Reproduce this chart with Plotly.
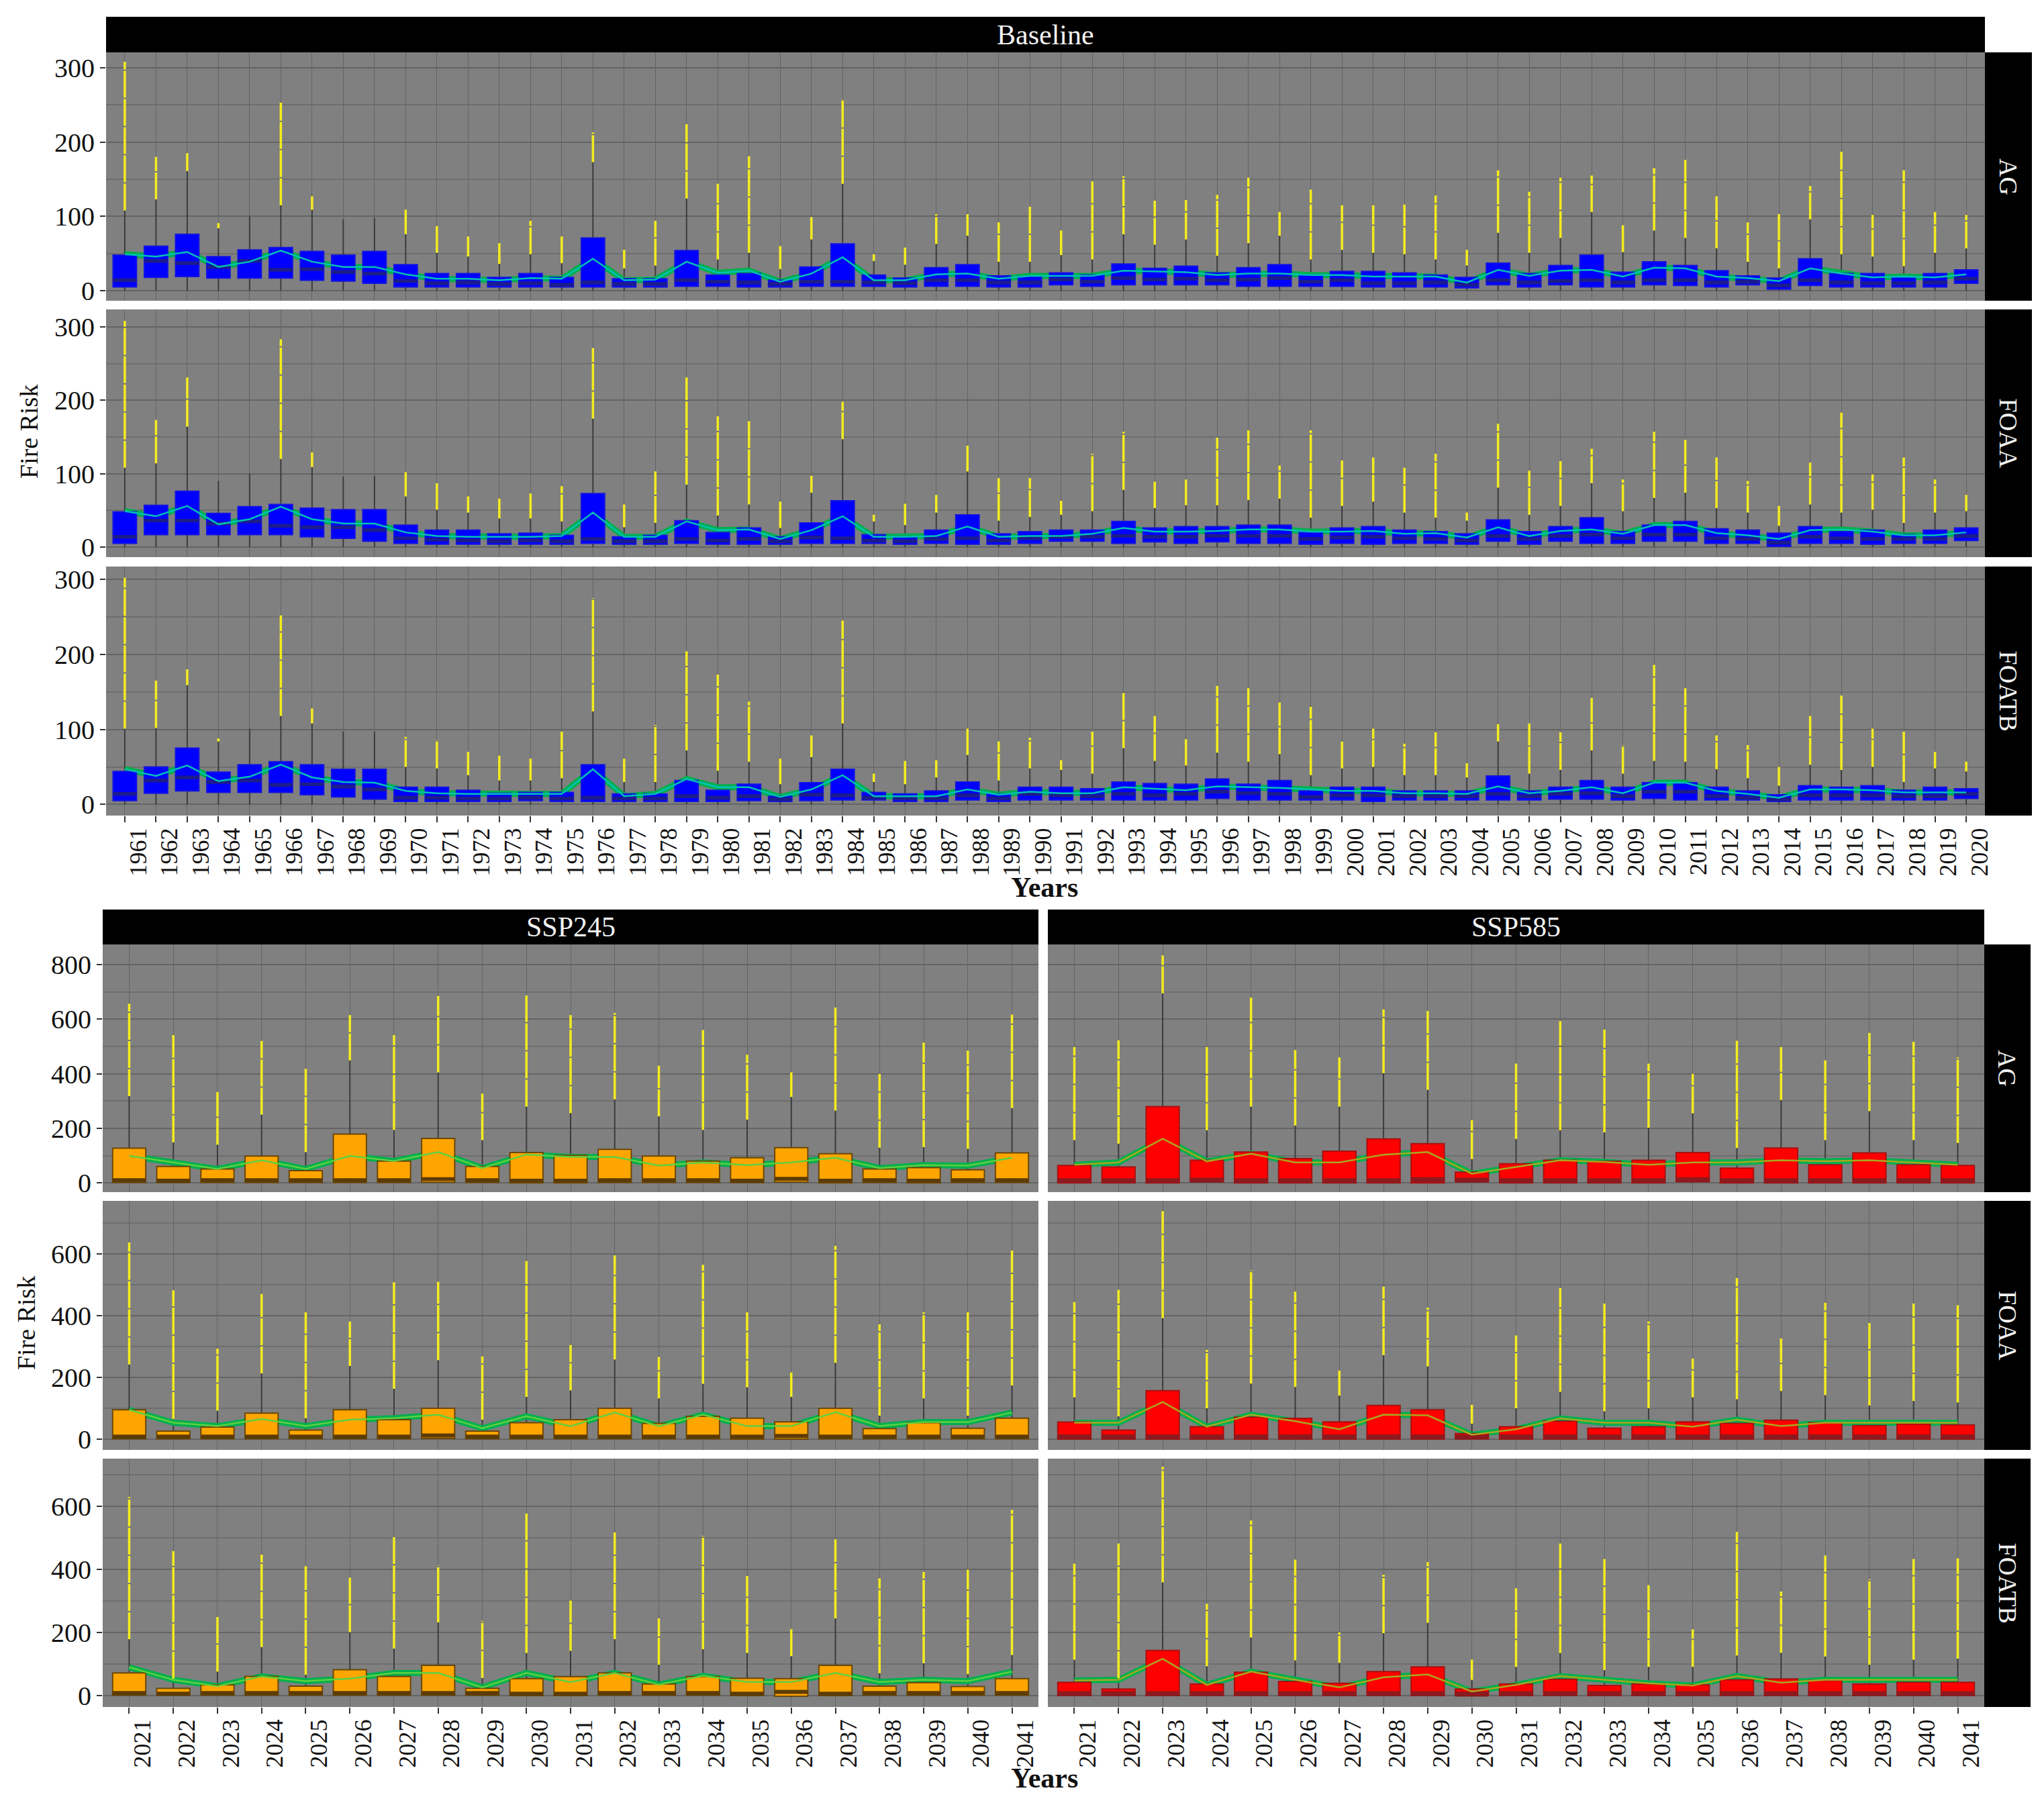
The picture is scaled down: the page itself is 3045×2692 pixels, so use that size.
import plotly.graph_objects as go

W, H = 3045, 2692

years_hist = [str(y) for y in range(1961, 2021)]
years_fut = [str(y) for y in range(2021, 2042)]

# Baseline AG
ag_top = [48,60,76,46,55,58,53,48,53,35,23,23,18,23,18,71,16,16,54,21,23,14,32,63,21,17,31,35,20,19,24,21,36,30,33,24,31,35,21,26,26,24,21,18,37,23,34,48,25,39,34,27,20,17,43,23,23,19,23,28]
ag_bot = [5,18,19,17,17,17,14,13,10,5,5,5,5,5,5,5,5,5,6,6,5,5,6,6,6,5,6,6,5,5,8,6,8,8,8,8,6,6,6,6,5,5,5,4,8,5,8,5,5,8,7,5,8,2,7,5,5,5,5,10]
ag_med = [14,40,37,32,40,28,29,25,23,13,10,11,9,10,8,11,9,9,14,12,11,9,12,12,11,10,14,14,11,11,15,12,17,15,16,14,15,17,12,14,10,10,11,8,14,11,13,14,11,14,14,11,12,7,14,11,10,10,11,16]
ag_whi = [108,123,161,84,100,115,109,96,98,76,51,46,36,49,37,173,30,34,124,42,51,29,69,144,40,35,63,74,39,39,48,42,76,62,69,47,64,74,42,55,51,49,42,34,78,51,71,106,52,81,71,57,39,30,96,49,46,33,51,57]
ag_max = [308,180,185,91,100,253,127,96,98,109,87,73,64,94,73,213,55,94,224,144,181,60,99,258,49,58,103,103,92,115,81,147,154,121,122,129,152,106,136,115,115,116,128,55,162,133,152,155,90,165,176,127,92,103,141,187,102,162,106,102]
ag_mean = [49,46,52,32,39,54,39,32,32,22,16,16,14,17,16,43,14,15,39,24,27,12,23,45,14,14,22,23,16,20,20,20,27,26,25,21,23,23,21,21,19,19,19,11,28,20,27,28,19,31,30,19,17,13,30,23,18,19,18,22]

# Baseline FOAA
foaa_top = [48,57,76,46,55,58,53,51,51,30,23,23,18,19,16,73,14,16,36,20,26,14,33,63,17,14,23,44,18,21,23,23,35,26,28,28,30,30,20,26,28,23,21,18,37,21,28,40,21,30,35,25,23,19,28,21,23,17,23,26]
foaa_bot = [5,17,17,17,17,17,14,12,8,5,4,4,4,4,4,5,4,4,5,4,4,4,5,5,5,4,5,4,4,5,8,8,5,7,5,7,5,5,4,5,4,5,5,4,8,4,8,5,5,8,8,5,5,1,5,5,4,5,5,9]
foaa_med = [14,36,36,32,35,29,27,27,23,12,10,9,8,9,8,11,8,8,11,9,11,8,13,12,9,8,11,12,9,12,14,14,15,14,14,15,15,15,11,13,14,12,11,9,15,11,15,17,12,17,17,12,11,6,14,12,11,11,11,15]
foaa_whi = [108,114,164,90,100,120,109,96,97,69,51,47,39,39,35,175,27,33,85,43,58,26,74,147,35,30,47,103,36,41,44,49,78,53,57,57,64,66,40,56,62,47,40,36,81,44,56,87,49,67,74,53,47,29,58,47,51,33,47,49]
foaa_max = [308,173,231,90,100,283,129,96,97,102,87,69,66,73,83,271,58,103,231,178,173,62,97,198,44,59,71,138,94,94,63,127,157,89,92,149,159,111,159,118,122,108,127,47,168,104,117,134,92,157,146,122,90,56,115,183,99,122,92,71]
foaa_mean = [49,42,56,31,38,55,38,32,32,20,15,14,14,14,15,47,14,14,35,23,24,11,23,42,14,14,15,28,14,15,15,18,26,21,21,22,24,24,21,21,22,18,19,13,27,15,22,24,18,30,30,19,16,11,23,24,21,16,16,20]

# Baseline FOATB
foatb_top = [44,50,75,43,53,57,53,47,47,23,23,19,15,16,16,53,14,14,32,19,27,11,29,47,16,14,18,30,14,23,23,21,30,28,27,34,27,32,18,23,23,18,18,18,38,18,23,32,23,29,29,23,18,13,25,23,25,19,23,21]
foatb_bot = [5,15,18,16,16,16,13,10,7,4,4,4,4,5,4,4,4,4,4,4,5,4,5,6,6,4,4,6,4,6,6,6,6,6,6,8,6,6,6,6,4,6,6,6,6,6,7,7,6,8,6,6,6,4,6,6,6,6,6,8]
foatb_med = [14,32,36,30,32,26,27,24,20,9,9,8,8,9,8,9,8,8,11,9,11,7,13,12,9,8,8,12,8,14,12,11,14,12,14,17,15,14,10,12,12,11,11,11,14,11,14,15,11,17,17,11,9,7,12,12,12,11,11,14]
foatb_whi = [101,102,159,84,101,118,108,97,97,50,48,39,32,32,35,124,30,30,72,45,57,27,63,108,30,27,36,66,32,48,46,41,75,58,52,69,57,67,39,48,50,39,39,36,84,41,46,72,41,58,57,47,35,25,53,46,50,30,48,44]
foatb_max = [302,165,180,88,101,252,128,97,97,90,86,70,65,61,97,275,61,106,204,173,137,61,92,245,41,58,59,101,84,89,59,97,150,118,87,158,155,136,130,84,101,81,96,55,107,108,96,142,79,186,155,92,79,50,118,145,101,97,70,57]
foatb_mean = [47,38,52,31,37,53,36,30,29,18,15,14,14,14,14,47,11,14,34,23,23,10,20,39,11,11,11,20,13,17,15,15,23,21,19,24,23,22,20,18,18,15,15,14,24,15,18,23,15,29,29,18,14,9,20,20,19,16,16,16]

# SSP245
s245_ag_top = [127,60,51,98,45,179,80,163,60,111,101,123,98,80,92,129,107,51,56,48,110]
s245_ag_bot = [1,1,1,1,1,1,1,2,1,0,0,1,1,1,1,3,0,1,0,1,1]
s245_ag_med = [10,8,10,10,10,10,10,14,10,8,8,10,10,10,8,15,8,10,8,10,10]
s245_ag_whi = [318,149,140,250,113,449,194,405,157,280,256,306,244,194,232,315,265,129,131,125,274]
s245_ag_max = [657,542,333,520,423,615,542,685,327,687,615,623,429,560,470,405,643,399,514,485,617]
s245_ag_mean = [99,75,51,83,51,99,80,113,54,104,95,95,63,75,65,75,92,54,65,63,92]

s245_foaa_top = [95,26,39,84,29,95,63,100,26,53,63,100,51,74,68,56,100,34,53,35,68]
s245_foaa_bot = [1,1,1,1,1,1,1,2,1,1,1,1,1,1,0,0,1,1,1,1,1]
s245_foaa_med = [8,8,8,8,8,8,8,12,8,8,8,8,8,8,8,10,8,8,8,8,8]
s245_foaa_whi = [242,65,92,213,68,237,163,256,63,137,158,258,132,179,168,137,247,76,132,76,174]
s245_foaa_max = [637,482,293,470,411,381,508,510,268,577,305,595,266,565,411,216,626,372,411,411,611]
s245_foaa_mean = [95,53,42,65,42,63,68,79,35,74,42,86,42,79,42,42,87,42,55,55,86]

s245_foatb_top = [72,23,34,61,30,82,61,96,23,54,60,72,37,60,55,54,96,30,41,29,54]
s245_foatb_bot = [1,1,1,1,1,1,1,1,1,0,0,1,1,1,0,-2,0,1,1,1,1]
s245_foatb_med = [8,6,8,8,8,8,8,8,8,6,6,8,8,8,6,12,6,8,8,8,8]
s245_foatb_whi = [179,54,76,154,66,201,149,232,56,135,142,179,98,147,135,125,245,71,103,68,129]
s245_foatb_max = [629,458,249,447,410,374,506,412,237,577,301,517,245,506,379,215,495,372,392,399,589]
s245_foatb_mean = [90,50,30,61,46,54,72,72,26,72,43,72,35,63,43,43,72,43,50,46,76]

# SSP585
s585_ag_top = [64,58,280,83,113,89,116,161,144,39,70,83,79,83,111,54,128,66,110,66,64]
s585_ag_bot = [0,0,0,4,0,0,0,0,0,4,0,0,0,0,4,0,0,0,0,0,0]
s585_ag_med = [8,8,8,10,8,8,8,8,12,10,8,8,8,8,12,8,8,8,8,8,8]
s585_ag_whi = [157,144,695,193,280,210,280,402,341,87,161,193,185,202,255,128,304,157,263,157,146]
s585_ag_max = [498,523,834,498,679,487,460,636,630,230,437,593,562,437,400,521,498,449,550,517,460]
s585_ag_mean = [66,75,162,79,107,75,75,103,113,34,58,83,77,66,75,75,83,79,83,75,66]

s585_foaa_top = [55,29,157,40,71,67,56,109,95,18,40,58,35,40,56,51,61,53,44,48,46]
s585_foaa_bot = [0,0,0,0,0,0,0,0,0,1,0,0,0,0,0,0,0,0,0,0,0]
s585_foaa_med = [7,7,7,7,7,7,7,7,7,6,7,7,7,7,7,7,7,7,7,7,7]
s585_foaa_whi = [135,74,392,100,180,169,141,272,236,50,100,153,90,100,135,129,156,143,109,124,119]
s585_foaa_max = [444,484,739,289,547,478,222,494,426,111,336,489,439,381,261,522,326,442,376,439,434]
s585_foaa_mean = [53,53,120,40,79,58,32,79,77,14,32,67,53,53,40,63,42,53,53,53,53]

s585_foatb_top = [42,21,143,37,74,45,39,76,91,21,37,52,32,37,34,50,53,48,37,42,42]
s585_foatb_bot = [0,0,0,0,0,0,0,0,0,1,0,0,0,0,0,0,0,0,0,0,0]
s585_foatb_med = [6,6,6,6,6,6,6,6,6,5,6,6,6,6,6,6,6,6,6,6,6]
s585_foatb_whi = [114,55,359,93,184,112,104,198,231,50,91,135,81,91,91,127,136,124,98,114,117]
s585_foatb_max = [418,482,725,291,555,431,200,383,423,114,340,482,433,350,210,519,330,444,368,433,435]
s585_foatb_mean = [48,50,117,34,76,50,26,58,67,13,34,62,50,39,32,62,41,50,50,50,50]

# colours per scenario: box, median band, box edge, thin line
BLUE = ("#0000ff", "#1c1c8c", "#1414e0", "#00c2b4")
ORANGE = ("#ffa500", "#5c3b05", "#6b4708", "#5fd040")
RED = ("#ff0000", "#8c1a1e", "#a81010", "#a8a81e")

# panel: pixel box, y range, ticks, median band thickness in data units, data
panels = [
    dict(x=(158, 2957), y=(78, 448), yr=(-13.5, 320.7), dt=100, minor=50, years=years_hist, col=BLUE, band=5,
         d=(ag_top, ag_bot, ag_med, ag_whi, ag_max, ag_mean), xl=False, yl=True),
    dict(x=(158, 2957), y=(461, 830), yr=(-13.7, 323.6), dt=100, minor=50, years=years_hist, col=BLUE, band=5,
         d=(foaa_top, foaa_bot, foaa_med, foaa_whi, foaa_max, foaa_mean), xl=False, yl=True),
    dict(x=(158, 2957), y=(844, 1215), yr=(-14.8, 317), dt=100, minor=50, years=years_hist, col=BLUE, band=5,
         d=(foatb_top, foatb_bot, foatb_med, foatb_whi, foatb_max, foatb_mean), xl=True, yl=True),
    dict(x=(153, 1547), y=(1407, 1776), yr=(-34, 874), dt=200, minor=100, years=years_fut, col=ORANGE, band=14,
         d=(s245_ag_top, s245_ag_bot, s245_ag_med, s245_ag_whi, s245_ag_max, s245_ag_mean), xl=False, yl=True),
    dict(x=(153, 1547), y=(1789, 2160), yr=(-35, 772), dt=200, minor=100, years=years_fut, col=ORANGE, band=13,
         d=(s245_foaa_top, s245_foaa_bot, s245_foaa_med, s245_foaa_whi, s245_foaa_max, s245_foaa_mean), xl=False, yl=True),
    dict(x=(153, 1547), y=(2173, 2543), yr=(-36, 751), dt=200, minor=100, years=years_fut, col=ORANGE, band=13,
         d=(s245_foatb_top, s245_foatb_bot, s245_foatb_med, s245_foatb_whi, s245_foatb_max, s245_foatb_mean), xl=True, yl=True),
    dict(x=(1561, 2956), y=(1407, 1776), yr=(-34, 874), dt=200, minor=100, years=years_fut, col=RED, band=18,
         d=(s585_ag_top, s585_ag_bot, s585_ag_med, s585_ag_whi, s585_ag_max, s585_ag_mean), xl=False, yl=False),
    dict(x=(1561, 2956), y=(1789, 2160), yr=(-35, 772), dt=200, minor=100, years=years_fut, col=RED, band=16,
         d=(s585_foaa_top, s585_foaa_bot, s585_foaa_med, s585_foaa_whi, s585_foaa_max, s585_foaa_mean), xl=False, yl=False),
    dict(x=(1561, 2956), y=(2173, 2543), yr=(-36, 751), dt=200, minor=100, years=years_fut, col=RED, band=16,
         d=(s585_foatb_top, s585_foatb_bot, s585_foatb_med, s585_foatb_whi, s585_foatb_max, s585_foatb_mean), xl=True, yl=False),
]

SERIF = "Liberation Serif"
GRID = "#646464"
GRID_MINOR = "#6e6e6e"
BOX_WIDTH = 0.75


def px(v):
    return v / W


def py(v):
    return 1 - v / H


fig = go.Figure()
layout = {}

for i, p in enumerate(panels):
    main, over = i * 2 + 1, i * 2 + 2
    xm, ym = f"x{main}", f"y{main}"
    xo, yo = f"x{over}", f"y{over}"
    top, bot, med, whi, mx, mean = p["d"]
    yrs = p["years"]
    rng = [-0.6, len(yrs) - 1 + 0.6]

    # whiskers and thick mean line sit under the boxes
    wx, wy = [], []
    for k, yr in enumerate(yrs):
        wx += [yr, yr, None]
        wy += [0, whi[k], None]
    fig.add_trace(go.Scatter(x=wx, y=wy, mode="lines", line=dict(color="#3c3c3c", width=2),
                             xaxis=xm, yaxis=ym, showlegend=False))
    fig.add_trace(go.Scatter(x=yrs, y=mean, mode="lines", line=dict(color="#00b04f", width=9),
                             xaxis=xm, yaxis=ym, showlegend=False))

    # boxes and median bands on the overlay axes
    fig.add_trace(go.Bar(x=yrs, y=[t - b for t, b in zip(top, bot)], base=bot, width=BOX_WIDTH,
                         marker=dict(color=p["col"][0], line=dict(color=p["col"][2], width=2)),
                         xaxis=xo, yaxis=yo, showlegend=False))
    fig.add_trace(go.Bar(x=yrs, y=[p["band"] for _ in yrs], base=[m - p["band"] / 2 for m in med], width=BOX_WIDTH,
                         marker=dict(color=p["col"][1], line=dict(width=0)),
                         xaxis=xo, yaxis=yo, showlegend=False))

    # outlier streaks
    ox, oy = [], []
    for k, yr in enumerate(yrs):
        ox += [yr, yr, None]
        oy += [whi[k], mx[k], None]
    fig.add_trace(go.Scatter(x=ox, y=oy, mode="lines",
                             line=dict(color="#f4ec1e", width=3.5, dash="40px,2px"),
                             xaxis=xo, yaxis=yo, showlegend=False))
    fig.add_trace(go.Scatter(x=yrs, y=mean, mode="lines", line=dict(color=p["col"][3], width=2.5),
                             xaxis=xo, yaxis=yo, showlegend=False))

    dom_x = [px(p["x"][0]), px(p["x"][1])]
    dom_y = [py(p["y"][1]), py(p["y"][0])]
    layout[f"xaxis{main}"] = dict(
        domain=dom_x, anchor=ym, type="category", categoryorder="array", categoryarray=yrs, range=rng,
        showgrid=True, gridcolor=GRID, gridwidth=1, zeroline=False, showline=False,
        ticks="outside" if p["xl"] else "", ticklen=9, tickwidth=2, tickcolor="#333333",
        showticklabels=p["xl"], tickangle=-90, tickfont=dict(family=SERIF, size=36, color="#111111"),
        ticklabelshift=20, ticklabelstandoff=-6, automargin=False,
    )
    layout[f"yaxis{main}"] = dict(
        domain=dom_y, anchor=xm, range=list(p["yr"]), tick0=0, dtick=p["dt"],
        showgrid=True, gridcolor=GRID, gridwidth=2, zeroline=False, showline=False,
        minor=dict(tick0=0, dtick=p["minor"], showgrid=True, gridcolor=GRID_MINOR, gridwidth=1.5, ticks=""),
        ticks="outside" if p["yl"] else "", ticklen=8, tickwidth=2, tickcolor="#333333",
        showticklabels=p["yl"], tickfont=dict(family=SERIF, size=40, color="#111111"), automargin=False,
    )
    layout[f"xaxis{over}"] = dict(overlaying=xm, anchor=yo, type="category", categoryorder="array",
                                  categoryarray=yrs, range=rng, visible=False)
    layout[f"yaxis{over}"] = dict(overlaying=ym, anchor=xo, range=list(p["yr"]), visible=False)

# strips
shapes = []
annotations = []


def strip(x0, y0, x1, y1, text, angle=0, size=38):
    shapes.append(dict(type="rect", xref="paper", yref="paper", x0=px(x0), x1=px(x1), y0=py(y1), y1=py(y0),
                       fillcolor="black", line=dict(width=0), layer="above"))
    annotations.append(dict(text=text, xref="paper", yref="paper", x=px((x0 + x1) / 2), y=py((y0 + y1) / 2),
                            showarrow=False, textangle=angle, xanchor="center", yanchor="middle",
                            font=dict(family=SERIF, size=size, color="#f2f2f2")))


strip(158, 25, 2957, 78, "Baseline", size=42)
strip(153, 1355, 1547, 1407, "SSP245", size=42)
strip(1561, 1355, 2956, 1407, "SSP585", size=42)
for (y0, y1), txt in zip([(78, 448), (461, 830), (844, 1215)], ["AG", "FOAA", "FOATB"]):
    strip(2957, y0, 3027, y1, txt, angle=90)
for (y0, y1), txt in zip([(1407, 1776), (1789, 2160), (2173, 2543)], ["AG", "FOAA", "FOATB"]):
    strip(2956, y0, 3025, y1, txt, angle=90)


def label(x, y, text, angle=0, bold=False, size=38):
    annotations.append(dict(text=f"<b>{text}</b>" if bold else text, xref="paper", yref="paper", x=px(x), y=py(y),
                            showarrow=False, textangle=angle, xanchor="center", yanchor="middle",
                            font=dict(family=SERIF, size=size, color="#111111")))


label(43, 643, "Fire Risk", angle=-90)
label(39, 1971, "Fire Risk", angle=-90)
label(1556, 1322, "Years", bold=True, size=42)
label(1556, 2649, "Years", bold=True, size=42)

fig.update_layout(
    width=W, height=H, margin=dict(l=0, r=0, t=0, b=0),
    paper_bgcolor="white", plot_bgcolor="#808080",
    barmode="overlay", showlegend=False,
    shapes=shapes, annotations=annotations,
    **layout,
)

# the default body margin would push everything 8px off
fig.write_html("out.html", config={"displayModeBar": False},
               post_script="document.body.style.margin='0';")
